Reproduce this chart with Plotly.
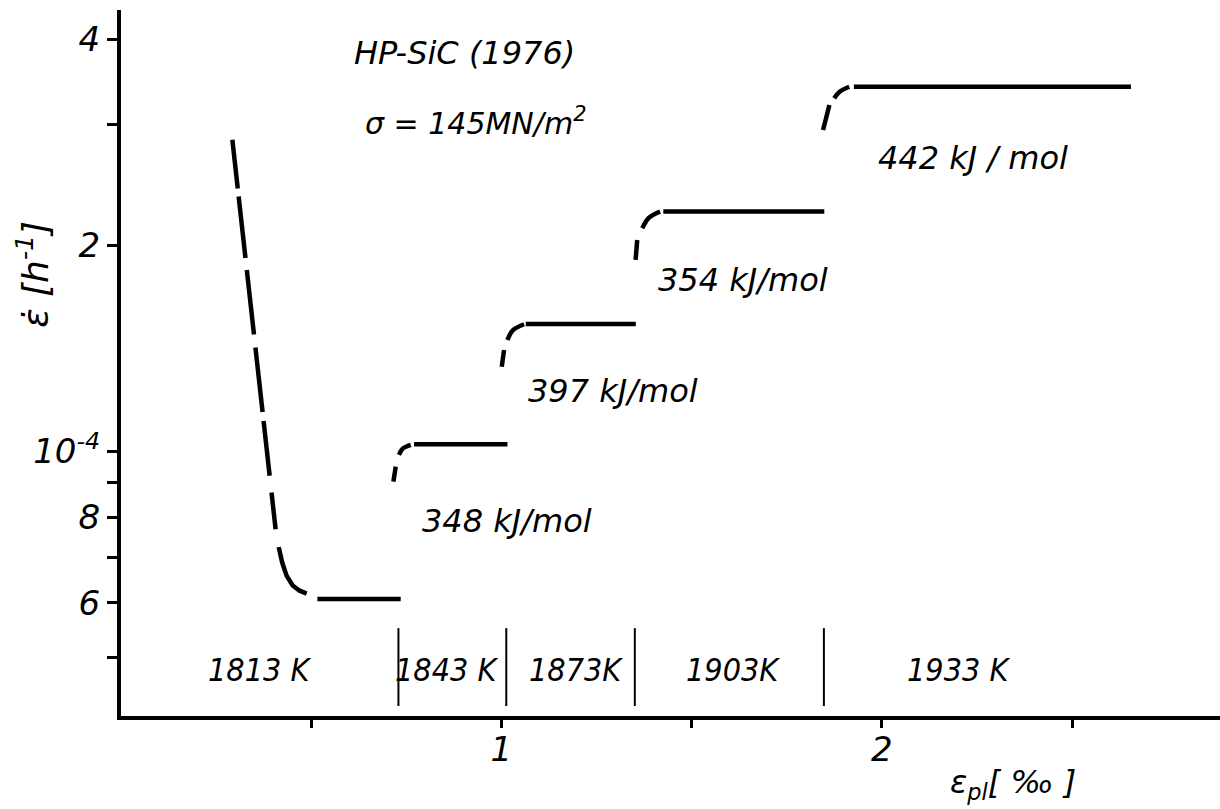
import numpy as np
import plotly.graph_objects as go

# Creep of hot-pressed SiC under 145 MN/m^2, temperature raised stepwise.
# Plastic strain in permille, creep rate in 1/h.

# 1813 K: primary creep (dashed) and steady state
x_1813_transient = [0.2927, 0.4066, 0.4153, 0.4237, 0.4355, 0.4513, 0.4697, 0.4881]
y_1813_transient = [2.85e-4, 7.67e-5, 7.21e-5, 6.87e-5, 6.57e-5, 6.36e-5, 6.25e-5, 6.19e-5]
x_1813_steady = [0.5162, 0.7353]
y_1813_steady = [6.08e-5, 6.08e-5]

# 1843 K
x_1843_onset = [0.7161, 0.7222]
y_1843_onset = [9.02e-5, 9.49e-5]
x_1843_knee = [0.7308, 0.7405, 0.7616]
y_1843_knee = [9.87e-5, 1.008e-4, 1.021e-4]
x_1843_steady = [0.7703, 1.0159]
y_1843_steady = [1.023e-4, 1.023e-4]

# 1873 K
x_1873_onset = [1.0009, 1.0070]
y_1873_onset = [1.328e-4, 1.405e-4]
x_1873_knee = [1.0159, 1.0298, 1.0596]
y_1873_knee = [1.453e-4, 1.501e-4, 1.532e-4]
x_1873_steady = [1.0640, 1.3533]
y_1873_steady = [1.533e-4, 1.533e-4]

# 1903 K
x_1903_onset = [1.3528, 1.3570]
y_1903_onset = [1.902e-4, 2.034e-4]
x_1903_knee = [1.3704, 1.3875, 1.4172]
y_1903_knee = [2.116e-4, 2.191e-4, 2.238e-4]
x_1903_steady = [1.4256, 1.8488]
y_1903_steady = [2.238e-4, 2.238e-4]

# 1933 K
x_1933_onset = [1.8456, 1.8622]
y_1933_onset = [2.945e-4, 3.203e-4]
x_1933_knee = [1.8748, 1.8898, 1.9143]
y_1933_knee = [3.276e-4, 3.352e-4, 3.406e-4]
x_1933_steady = [1.9266, 2.6549]
y_1933_steady = [3.406e-4, 3.406e-4]

# temperature change markers and labels
temperature_steps = [0.7293, 1.0128, 1.3507, 1.8477]
marker_y = [5.51e-5, 4.24e-5]
temperature_labels = ["1813 K", "1843 K", "1873K", "1903K", "1933 K"]
temperature_label_x = [0.364, 0.8547, 1.1968, 1.609, 2.2006]
temperature_label_y = 4.79e-5

# apparent activation energies
energy_labels = ["348 kJ/mol", "397 kJ/mol", "354 kJ/mol", "442 kJ / mol"]
energy_label_x = [0.786, 1.064, 1.407, 1.984]
energy_label_y = [7.91e-5, 1.225e-4, 1.778e-4, 2.678e-4]

# axis ticks (labelled) and unlabelled minor ticks
x_tickvals = [1.0, 2.0]
x_ticktext = ["1", "2"]
x_minor_ticks = [0.5, 1.5, 2.5]
y_tickvals = [6e-5, 8e-5, 1e-4, 2e-4, 4e-4]
y_ticktext = ["6", "8", "10<sup>-4</sup>", "2", "4"]
y_minor_ticks = [5e-5, 7e-5, 9e-5, 3e-4]

FONT = "DejaVu Sans"
NARROW = "DejaVu Sans Condensed, Liberation Sans Narrow, DejaVu Sans"
INK = "#000000"
LW = 4.5

fig = go.Figure()


def add_line(x, y, width=LW, dash="solid", shape="linear"):
    fig.add_trace(go.Scatter(
        x=x, y=y, mode="lines", hoverinfo="skip", showlegend=False,
        line=dict(color=INK, width=width, dash=dash, shape=shape),
    ))


add_line(x_1813_transient, y_1813_transient,
         dash="49px,8px,62px,12px,65px,13px,65px,9px,55px,17px,37px,18px,60px,20px")
add_line(x_1813_steady, y_1813_steady)

for onset, knee, steady in [
    ((x_1843_onset, y_1843_onset), (x_1843_knee, y_1843_knee), (x_1843_steady, y_1843_steady)),
    ((x_1873_onset, y_1873_onset), (x_1873_knee, y_1873_knee), (x_1873_steady, y_1873_steady)),
    ((x_1903_onset, y_1903_onset), (x_1903_knee, y_1903_knee), (x_1903_steady, y_1903_steady)),
    ((x_1933_onset, y_1933_onset), (x_1933_knee, y_1933_knee), (x_1933_steady, y_1933_steady)),
]:
    add_line(*onset)
    add_line(*knee, shape="spline")
    add_line(*steady)

# thin vertical markers where the temperature was raised
mx, my = [], []
for xs in temperature_steps:
    mx += [xs, xs, None]
    my += [marker_y[0], marker_y[1], None]
add_line(mx, my, width=2)

annotations = []
label_font = dict(family=NARROW, size=32, color=INK, style="italic")
for text, x in zip(temperature_labels, temperature_label_x):
    annotations.append(dict(x=x, y=np.log10(temperature_label_y), xref="x", yref="y",
                            text=text, showarrow=False, xanchor="center",
                            yanchor="middle", font=label_font))

energy_font = dict(family=FONT, size=32, color=INK, style="italic")
for text, x, y in zip(energy_labels, energy_label_x, energy_label_y):
    annotations.append(dict(x=x, y=np.log10(y), xref="x", yref="y", text=text,
                            showarrow=False, xanchor="left", yanchor="middle",
                            font=energy_font))

annotations.append(dict(x=0.6065, y=np.log10(3.817e-4), xref="x", yref="y",
                        text="HP-SiC (1976)", showarrow=False, xanchor="left",
                        yanchor="middle",
                        font=dict(family=FONT, size=32, color=INK, style="italic")))
annotations.append(dict(x=0.636, y=np.log10(3.03e-4), xref="x", yref="y",
                        text="σ = 145MN/m<sup>2</sup>", showarrow=False,
                        xanchor="left", yanchor="middle",
                        font=dict(family=FONT, size=30, color=INK, style="italic")))

# axis titles
annotations.append(dict(x=-0.08, y=0.625, xref="paper", yref="paper",
                        text="ε̇ [h<sup>-1</sup>]", textangle=-90, showarrow=False,
                        xanchor="center", yanchor="middle",
                        font=dict(family=FONT, size=36, color=INK, style="italic")))
annotations.append(dict(x=0.8117, y=-0.097, xref="paper", yref="paper",
                        text="ε<sub>pl</sub>[ ‰ ]", showarrow=False,
                        xanchor="center", yanchor="middle",
                        font=dict(family=FONT, size=32, color=INK, style="italic")))

tick_font = dict(family=FONT, size=34, color=INK, style="italic")

fig.update_layout(
    width=1220, height=809,
    margin=dict(l=121, r=0, t=10, b=93),
    paper_bgcolor="white", plot_bgcolor="white",
    showlegend=False,
    annotations=annotations,
    xaxis=dict(
        range=[0, 2.889], showgrid=False, zeroline=False,
        showline=True, linecolor=INK, linewidth=4,
        ticks="outside", ticklen=8, tickwidth=3, tickcolor=INK,
        tickvals=x_tickvals, ticktext=x_ticktext, tickfont=tick_font,
        ticklabelstandoff=-8,
        minor=dict(tickvals=x_minor_ticks, ticks="outside", ticklen=8,
                   tickwidth=3, tickcolor=INK, showgrid=False),
    ),
    yaxis=dict(
        type="log", range=[np.log10(4.10e-5), np.log10(4.41e-4)],
        showgrid=False, zeroline=False,
        showline=True, linecolor=INK, linewidth=4,
        ticks="outside", ticklen=10, tickwidth=3, tickcolor=INK,
        tickvals=y_tickvals, ticktext=y_ticktext, tickfont=tick_font,
        minor=dict(tickvals=y_minor_ticks, ticks="outside", ticklen=10,
                   tickwidth=3, tickcolor=INK, showgrid=False),
    ),
)

fig.write_html("out.html")
